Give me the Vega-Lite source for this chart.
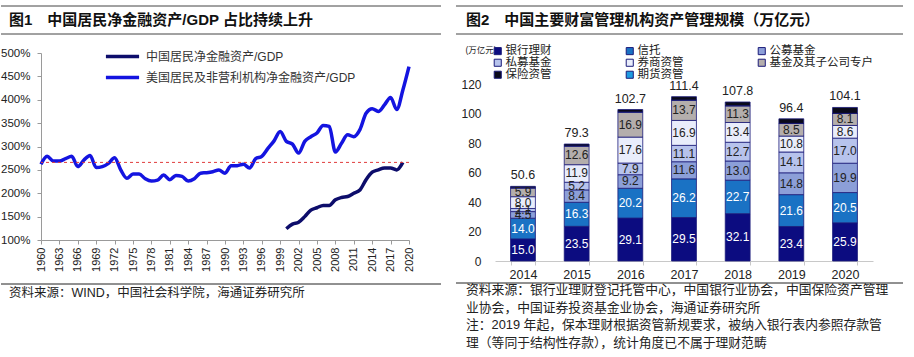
{
  "$schema": "https://vega.github.io/schema/vega-lite/v6.json",
  "padding": {"left": 0, "top": 5, "right": 0, "bottom": 0},
  "config": {
    "view": {"stroke": null},
    "font": "'Liberation Sans', 'Noto Sans CJK SC', sans-serif"
  },
  "resolve": {"scale": {"color": "independent"}, "legend": {"color": "independent"}},
  "datasets": {
    "lines": [
      {"series": "美国居民及非营利机构净金融资产/GDP", "year": 1960, "value": 262},
      {"series": "美国居民及非营利机构净金融资产/GDP", "year": 1961, "value": 279},
      {"series": "美国居民及非营利机构净金融资产/GDP", "year": 1962, "value": 269},
      {"series": "美国居民及非营利机构净金融资产/GDP", "year": 1963, "value": 269},
      {"series": "美国居民及非营利机构净金融资产/GDP", "year": 1964, "value": 274},
      {"series": "美国居民及非营利机构净金融资产/GDP", "year": 1965, "value": 279},
      {"series": "美国居民及非营利机构净金融资产/GDP", "year": 1966, "value": 257},
      {"series": "美国居民及非营利机构净金融资产/GDP", "year": 1967, "value": 271},
      {"series": "美国居民及非营利机构净金融资产/GDP", "year": 1968, "value": 281},
      {"series": "美国居民及非营利机构净金融资产/GDP", "year": 1969, "value": 255},
      {"series": "美国居民及非营利机构净金融资产/GDP", "year": 1970, "value": 257},
      {"series": "美国居民及非营利机构净金融资产/GDP", "year": 1971, "value": 264},
      {"series": "美国居民及非营利机构净金融资产/GDP", "year": 1972, "value": 276},
      {"series": "美国居民及非营利机构净金融资产/GDP", "year": 1973, "value": 250},
      {"series": "美国居民及非营利机构净金融资产/GDP", "year": 1974, "value": 232},
      {"series": "美国居民及非营利机构净金融资产/GDP", "year": 1975, "value": 241},
      {"series": "美国居民及非营利机构净金融资产/GDP", "year": 1976, "value": 241},
      {"series": "美国居民及非营利机构净金融资产/GDP", "year": 1977, "value": 231},
      {"series": "美国居民及非营利机构净金融资产/GDP", "year": 1978, "value": 226},
      {"series": "美国居民及非营利机构净金融资产/GDP", "year": 1979, "value": 228},
      {"series": "美国居民及非营利机构净金融资产/GDP", "year": 1980, "value": 239},
      {"series": "美国居民及非营利机构净金融资产/GDP", "year": 1981, "value": 229},
      {"series": "美国居民及非营利机构净金融资产/GDP", "year": 1982, "value": 238},
      {"series": "美国居民及非营利机构净金融资产/GDP", "year": 1983, "value": 236},
      {"series": "美国居民及非营利机构净金融资产/GDP", "year": 1984, "value": 226},
      {"series": "美国居民及非营利机构净金融资产/GDP", "year": 1985, "value": 231},
      {"series": "美国居民及非营利机构净金融资产/GDP", "year": 1986, "value": 243},
      {"series": "美国居民及非营利机构净金融资产/GDP", "year": 1987, "value": 244},
      {"series": "美国居民及非营利机构净金融资产/GDP", "year": 1988, "value": 246},
      {"series": "美国居民及非营利机构净金融资产/GDP", "year": 1989, "value": 250},
      {"series": "美国居民及非营利机构净金融资产/GDP", "year": 1990, "value": 243},
      {"series": "美国居民及非营利机构净金融资产/GDP", "year": 1991, "value": 259},
      {"series": "美国居民及非营利机构净金融资产/GDP", "year": 1992, "value": 259},
      {"series": "美国居民及非营利机构净金融资产/GDP", "year": 1993, "value": 262},
      {"series": "美国居民及非营利机构净金融资产/GDP", "year": 1994, "value": 254},
      {"series": "美国居民及非营利机构净金融资产/GDP", "year": 1995, "value": 274},
      {"series": "美国居民及非营利机构净金融资产/GDP", "year": 1996, "value": 279},
      {"series": "美国居民及非营利机构净金融资产/GDP", "year": 1997, "value": 296},
      {"series": "美国居民及非营利机构净金融资产/GDP", "year": 1998, "value": 312},
      {"series": "美国居民及非营利机构净金融资产/GDP", "year": 1999, "value": 332},
      {"series": "美国居民及非营利机构净金融资产/GDP", "year": 2000, "value": 311},
      {"series": "美国居民及非营利机构净金融资产/GDP", "year": 2001, "value": 305},
      {"series": "美国居民及非营利机构净金融资产/GDP", "year": 2002, "value": 286},
      {"series": "美国居民及非营利机构净金融资产/GDP", "year": 2003, "value": 311},
      {"series": "美国居民及非营利机构净金融资产/GDP", "year": 2004, "value": 321},
      {"series": "美国居民及非营利机构净金融资产/GDP", "year": 2005, "value": 329},
      {"series": "美国居民及非营利机构净金融资产/GDP", "year": 2006, "value": 345},
      {"series": "美国居民及非营利机构净金融资产/GDP", "year": 2007, "value": 343},
      {"series": "美国居民及非营利机构净金融资产/GDP", "year": 2008, "value": 288},
      {"series": "美国居民及非营利机构净金融资产/GDP", "year": 2009, "value": 307},
      {"series": "美国居民及非营利机构净金融资产/GDP", "year": 2010, "value": 325},
      {"series": "美国居民及非营利机构净金融资产/GDP", "year": 2011, "value": 321},
      {"series": "美国居民及非营利机构净金融资产/GDP", "year": 2012, "value": 336},
      {"series": "美国居民及非营利机构净金融资产/GDP", "year": 2013, "value": 371},
      {"series": "美国居民及非营利机构净金融资产/GDP", "year": 2014, "value": 381},
      {"series": "美国居民及非营利机构净金融资产/GDP", "year": 2015, "value": 375},
      {"series": "美国居民及非营利机构净金融资产/GDP", "year": 2016, "value": 389},
      {"series": "美国居民及非营利机构净金融资产/GDP", "year": 2017, "value": 405},
      {"series": "美国居民及非营利机构净金融资产/GDP", "year": 2018, "value": 379},
      {"series": "美国居民及非营利机构净金融资产/GDP", "year": 2019, "value": 421},
      {"series": "美国居民及非营利机构净金融资产/GDP", "year": 2020, "value": 471},
      {"series": "中国居民净金融资产/GDP", "year": 2000, "value": 124},
      {"series": "中国居民净金融资产/GDP", "year": 2001, "value": 134},
      {"series": "中国居民净金融资产/GDP", "year": 2002, "value": 138},
      {"series": "中国居民净金融资产/GDP", "year": 2003, "value": 150},
      {"series": "中国居民净金融资产/GDP", "year": 2004, "value": 164},
      {"series": "中国居民净金融资产/GDP", "year": 2005, "value": 169},
      {"series": "中国居民净金融资产/GDP", "year": 2006, "value": 174},
      {"series": "中国居民净金融资产/GDP", "year": 2007, "value": 174},
      {"series": "中国居民净金融资产/GDP", "year": 2008, "value": 186},
      {"series": "中国居民净金融资产/GDP", "year": 2009, "value": 191},
      {"series": "中国居民净金融资产/GDP", "year": 2010, "value": 193},
      {"series": "中国居民净金融资产/GDP", "year": 2011, "value": 200},
      {"series": "中国居民净金融资产/GDP", "year": 2012, "value": 207},
      {"series": "中国居民净金融资产/GDP", "year": 2013, "value": 229},
      {"series": "中国居民净金融资产/GDP", "year": 2014, "value": 245},
      {"series": "中国居民净金融资产/GDP", "year": 2015, "value": 250},
      {"series": "中国居民净金融资产/GDP", "year": 2016, "value": 254},
      {"series": "中国居民净金融资产/GDP", "year": 2017, "value": 254},
      {"series": "中国居民净金融资产/GDP", "year": 2018, "value": 250},
      {"series": "中国居民净金融资产/GDP", "year": 2019, "value": 266}
    ],
    "wealth": [
      {"year": "2014", "series": "银行理财", "k": 1, "v": 15.0},
      {"year": "2014", "series": "信托", "k": 2, "v": 14.0},
      {"year": "2014", "series": "公募基金", "k": 3, "v": 4.5},
      {"year": "2014", "series": "私募基金", "k": 4, "v": 2.1},
      {"year": "2014", "series": "券商资管", "k": 5, "v": 8.0},
      {"year": "2014", "series": "基金及其子公司专户", "k": 6, "v": 5.9},
      {"year": "2014", "series": "期货资管", "k": 7, "v": 0.1},
      {"year": "2014", "series": "保险资管", "k": 8, "v": 1.0},
      {"year": "2015", "series": "银行理财", "k": 1, "v": 23.5},
      {"year": "2015", "series": "信托", "k": 2, "v": 16.3},
      {"year": "2015", "series": "公募基金", "k": 3, "v": 8.4},
      {"year": "2015", "series": "私募基金", "k": 4, "v": 5.2},
      {"year": "2015", "series": "券商资管", "k": 5, "v": 11.9},
      {"year": "2015", "series": "基金及其子公司专户", "k": 6, "v": 12.6},
      {"year": "2015", "series": "期货资管", "k": 7, "v": 0.1},
      {"year": "2015", "series": "保险资管", "k": 8, "v": 1.3},
      {"year": "2016", "series": "银行理财", "k": 1, "v": 29.1},
      {"year": "2016", "series": "信托", "k": 2, "v": 20.2},
      {"year": "2016", "series": "公募基金", "k": 3, "v": 9.2},
      {"year": "2016", "series": "私募基金", "k": 4, "v": 7.9},
      {"year": "2016", "series": "券商资管", "k": 5, "v": 17.6},
      {"year": "2016", "series": "基金及其子公司专户", "k": 6, "v": 16.9},
      {"year": "2016", "series": "期货资管", "k": 7, "v": 0.1},
      {"year": "2016", "series": "保险资管", "k": 8, "v": 1.7},
      {"year": "2017", "series": "银行理财", "k": 1, "v": 29.5},
      {"year": "2017", "series": "信托", "k": 2, "v": 26.2},
      {"year": "2017", "series": "公募基金", "k": 3, "v": 11.6},
      {"year": "2017", "series": "私募基金", "k": 4, "v": 11.1},
      {"year": "2017", "series": "券商资管", "k": 5, "v": 16.9},
      {"year": "2017", "series": "基金及其子公司专户", "k": 6, "v": 13.7},
      {"year": "2017", "series": "期货资管", "k": 7, "v": 0.1},
      {"year": "2017", "series": "保险资管", "k": 8, "v": 2.3},
      {"year": "2018", "series": "银行理财", "k": 1, "v": 32.1},
      {"year": "2018", "series": "信托", "k": 2, "v": 22.7},
      {"year": "2018", "series": "公募基金", "k": 3, "v": 13.0},
      {"year": "2018", "series": "私募基金", "k": 4, "v": 12.7},
      {"year": "2018", "series": "券商资管", "k": 5, "v": 13.4},
      {"year": "2018", "series": "基金及其子公司专户", "k": 6, "v": 11.3},
      {"year": "2018", "series": "期货资管", "k": 7, "v": 0.1},
      {"year": "2018", "series": "保险资管", "k": 8, "v": 2.5},
      {"year": "2019", "series": "银行理财", "k": 1, "v": 23.4},
      {"year": "2019", "series": "信托", "k": 2, "v": 21.6},
      {"year": "2019", "series": "公募基金", "k": 3, "v": 14.8},
      {"year": "2019", "series": "私募基金", "k": 4, "v": 14.1},
      {"year": "2019", "series": "券商资管", "k": 5, "v": 10.8},
      {"year": "2019", "series": "基金及其子公司专户", "k": 6, "v": 8.5},
      {"year": "2019", "series": "期货资管", "k": 7, "v": 0.1},
      {"year": "2019", "series": "保险资管", "k": 8, "v": 3.1},
      {"year": "2020", "series": "银行理财", "k": 1, "v": 25.9},
      {"year": "2020", "series": "信托", "k": 2, "v": 20.5},
      {"year": "2020", "series": "公募基金", "k": 3, "v": 19.9},
      {"year": "2020", "series": "私募基金", "k": 4, "v": 17.0},
      {"year": "2020", "series": "券商资管", "k": 5, "v": 8.6},
      {"year": "2020", "series": "基金及其子公司专户", "k": 6, "v": 8.1},
      {"year": "2020", "series": "期货资管", "k": 7, "v": 0.1},
      {"year": "2020", "series": "保险资管", "k": 8, "v": 4.0}
    ],
    "totals": [
      {"year": "2014", "total": 50.6},
      {"year": "2015", "total": 79.3},
      {"year": "2016", "total": 102.7},
      {"year": "2017", "total": 111.4},
      {"year": "2018", "total": 107.8},
      {"year": "2019", "total": 96.4},
      {"year": "2020", "total": 104.1}
    ]
  },
  "hconcat": [
    {
      "spacing": 12,
      "resolve": {"scale": {"color": "independent"}, "legend": {"color": "independent"}},
      "vconcat": [
        {
          "width": 400,
          "height": 28,
          "data": {"values": [{"t": "图1\u3000中国居民净金融资产/GDP 占比持续上升"}]},
          "layer": [
            {
              "mark": {"type": "rule", "color": "#444", "strokeWidth": 1},
              "encoding": {
                "x": {"datum": -0.1, "type": "quantitative", "scale": {"domain": [0, 1], "nice": false, "zero": false}, "axis": null},
                "x2": {"datum": 1},
                "y": {"datum": 1, "type": "quantitative", "scale": {"domain": [0, 1], "nice": false}, "axis": null}
              }
            },
            {
              "mark": {"type": "rule", "color": "#444", "strokeWidth": 1},
              "encoding": {
                "x": {"datum": -0.1, "type": "quantitative", "scale": {"domain": [0, 1], "nice": false, "zero": false}, "axis": null},
                "x2": {"datum": 1},
                "y": {"datum": 0, "type": "quantitative", "scale": {"domain": [0, 1], "nice": false}, "axis": null}
              }
            },
            {
              "mark": {"type": "text", "align": "left", "baseline": "middle", "fontSize": 15, "fontWeight": "bold", "color": "#111"},
              "encoding": {
                "x": {"datum": -0.08, "type": "quantitative", "scale": {"domain": [0, 1], "nice": false, "zero": false}, "axis": null},
                "y": {"datum": 0.5, "type": "quantitative", "scale": {"domain": [0, 1], "nice": false}, "axis": null},
                "text": {"field": "t"}
              }
            }
          ]
        },
        {
          "spacing": 11,
          "resolve": {"scale": {"color": "independent"}, "legend": {"color": "independent"}},
          "vconcat": [
            {
              "width": 368,
              "height": 187,
              "layer": [
                {
                  "data": {"name": "lines"},
                  "mark": {"type": "line", "strokeWidth": 3.5, "interpolate": "monotone"},
                  "encoding": {
                    "x": {
                      "field": "year", "type": "quantitative",
                      "scale": {"domain": [1960, 2020], "nice": false, "zero": false},
                      "axis": {
                        "title": null, "values": [1960, 1963, 1966, 1969, 1972, 1975, 1978, 1981, 1984, 1987, 1990, 1993, 1996, 1999, 2002, 2005, 2008, 2011, 2014, 2017, 2020],
                        "format": "d", "labelAngle": -90, "labelFontSize": 11, "labelColor": "#222", "labelPadding": 3,
                        "labelOverlap": false, "labelFlush": false, "grid": false,
                        "domainColor": "#9a9a9a", "tickColor": "#9a9a9a", "tickSize": 4
                      }
                    },
                    "y": {
                      "field": "value", "type": "quantitative",
                      "scale": {"domain": [100, 500], "nice": false, "zero": false},
                      "axis": {
                        "title": null, "values": [100, 150, 200, 250, 300, 350, 400, 450, 500],
                        "labelExpr": "datum.value + '%'", "labelFontSize": 11.5, "labelColor": "#222", "labelPadding": 7,
                        "labelOverlap": false, "grid": false, "domainColor": "#9a9a9a", "tickColor": "#9a9a9a", "tickSize": 4
                      }
                    },
                    "color": {
                      "field": "series", "type": "nominal",
                      "sort": ["中国居民净金融资产/GDP", "美国居民及非营利机构净金融资产/GDP"],
                      "scale": {"domain": ["中国居民净金融资产/GDP", "美国居民及非营利机构净金融资产/GDP"], "range": ["#0d0d6b", "#1414e0"]},
                      "legend": {
                        "orient": "none", "legendX": 63, "legendY": -4, "title": null,
                        "symbolType": "stroke", "symbolSize": 1100, "symbolStrokeWidth": 3.5, "clipHeight": 15,
                        "labelFontSize": 12, "labelColor": "#333", "rowPadding": 6, "labelOffset": 5, "padding": 0, "labelLimit": 400
                      }
                    }
                  }
                },
                {
                  "data": {"values": [{}]},
                  "mark": {"type": "rule", "color": "#e03c3c", "strokeDash": [3, 3], "strokeWidth": 1},
                  "encoding": {
                    "y": {
                      "datum": 266, "type": "quantitative",
                      "scale": {"domain": [100, 500], "nice": false, "zero": false},
                      "axis": {
                        "title": null, "values": [100, 150, 200, 250, 300, 350, 400, 450, 500],
                        "labelExpr": "datum.value + '%'", "labelFontSize": 11.5, "labelColor": "#222", "labelPadding": 7,
                        "labelOverlap": false, "grid": false, "domainColor": "#9a9a9a", "tickColor": "#9a9a9a", "tickSize": 4
                      }
                    }
                  }
                }
              ]
            },
            {
              "width": 400,
              "height": 17,
              "data": {"values": [{"t": "资料来源：WIND，中国社会科学院，海通证券研究所"}]},
              "layer": [
                {
                  "mark": {"type": "rule", "color": "#222", "strokeWidth": 1},
                  "encoding": {
                    "x": {"datum": -0.1, "type": "quantitative", "scale": {"domain": [0, 1], "nice": false, "zero": false}, "axis": null},
                    "x2": {"datum": 1},
                    "y": {"datum": 1, "type": "quantitative", "scale": {"domain": [0, 1], "nice": false}, "axis": null}
                  }
                },
                {
                  "mark": {"type": "text", "align": "left", "baseline": "middle", "fontSize": 12.5, "color": "#222"},
                  "encoding": {
                    "x": {"datum": -0.08, "type": "quantitative", "scale": {"domain": [0, 1], "nice": false, "zero": false}, "axis": null},
                    "y": {"datum": 0.5, "type": "quantitative", "scale": {"domain": [0, 1], "nice": false}, "axis": null},
                    "text": {"field": "t"}
                  }
                }
              ]
            }
          ]
        }
      ]
    },
    {
      "spacing": 10,
      "resolve": {"scale": {"color": "independent"}, "legend": {"color": "independent"}},
      "vconcat": [
        {
          "width": 408,
          "height": 28,
          "data": {"values": [{"t": "图2\u3000中国主要财富管理机构资产管理规模（万亿元）"}]},
          "layer": [
            {
              "mark": {"type": "rule", "color": "#444", "strokeWidth": 1},
              "encoding": {
                "x": {"datum": -0.0956, "type": "quantitative", "scale": {"domain": [0, 1], "nice": false, "zero": false}, "axis": null},
                "x2": {"datum": 1},
                "y": {"datum": 1, "type": "quantitative", "scale": {"domain": [0, 1], "nice": false}, "axis": null}
              }
            },
            {
              "mark": {"type": "rule", "color": "#444", "strokeWidth": 1},
              "encoding": {
                "x": {"datum": -0.0956, "type": "quantitative", "scale": {"domain": [0, 1], "nice": false, "zero": false}, "axis": null},
                "x2": {"datum": 1},
                "y": {"datum": 0, "type": "quantitative", "scale": {"domain": [0, 1], "nice": false}, "axis": null}
              }
            },
            {
              "mark": {"type": "text", "align": "left", "baseline": "middle", "fontSize": 15, "fontWeight": "bold", "color": "#111"},
              "encoding": {
                "x": {"datum": -0.0711, "type": "quantitative", "scale": {"domain": [0, 1], "nice": false, "zero": false}, "axis": null},
                "y": {"datum": 0.5, "type": "quantitative", "scale": {"domain": [0, 1], "nice": false}, "axis": null},
                "text": {"field": "t"}
              }
            }
          ]
        },
        {
          "spacing": 1,
          "resolve": {"scale": {"color": "independent"}, "legend": {"color": "independent"}},
          "vconcat": [
            {
              "width": 378,
              "height": 177,
              "layer": [
                {
                  "data": {"name": "wealth"},
                  "mark": {"type": "bar", "stroke": "#1b1b7a", "strokeWidth": 0.8},
                  "encoding": {
                    "x": {
                      "field": "year", "type": "nominal",
                      "scale": {"paddingInner": 0.537, "paddingOuter": 0.29},
                      "axis": {
                        "title": null, "labelAngle": 0, "tickBand": "extent", "labelFontSize": 12.5, "labelColor": "#222",
                        "labelPadding": 3, "domainColor": "#c8c8c8", "tickColor": "#c8c8c8", "tickSize": 4, "grid": false
                      }
                    },
                    "y": {
                      "field": "v", "type": "quantitative", "stack": "zero",
                      "scale": {"domain": [0, 120], "nice": false},
                      "axis": {
                        "title": "(万亿元)", "titleAngle": 0, "titleAlign": "left", "titleBaseline": "middle",
                        "titleX": -30, "titleY": -35, "titleFontSize": 8.5, "titleFontWeight": "normal", "titleColor": "#222",
                        "values": [0, 20, 40, 60, 80, 100, 120], "domain": false, "ticks": false, "grid": false,
                        "labelOverlap": false, "labelPadding": 14, "labelFontSize": 12, "labelColor": "#222"
                      }
                    },
                    "color": {
                      "field": "series", "type": "nominal",
                      "sort": ["银行理财", "信托", "公募基金", "私募基金", "券商资管", "基金及其子公司专户", "保险资管", "期货资管"],
                      "scale": {
                        "domain": ["银行理财", "信托", "公募基金", "私募基金", "券商资管", "基金及其子公司专户", "保险资管", "期货资管"],
                        "range": ["#0c0c80", "#1a72c4", "#8c9fd8", "#b7c3ec", "#e9edfb", "#b4aeac", "#0a0a1a", "#1e9be0"]
                      },
                      "legend": {
                        "orient": "none", "legendX": -3, "legendY": -39, "title": null, "columns": 3, "gridAlign": "all",
                        "columnPadding": 15, "rowPadding": -1.5, "symbolType": "square", "symbolSize": 50,
                        "symbolStrokeColor": "#1b1b7a", "symbolStrokeWidth": 1, "labelFontSize": 11.5, "labelColor": "#222",
                        "labelOffset": 2, "padding": 0, "labelLimit": 200, "direction": "horizontal"
                      }
                    },
                    "order": {"field": "k", "type": "quantitative"}
                  }
                },
                {
                  "data": {"name": "wealth"},
                  "transform": [{"filter": "datum.k <= 6"}],
                  "mark": {"type": "text", "fontSize": 12, "baseline": "middle"},
                  "encoding": {
                    "x": {"field": "year", "type": "nominal"},
                    "y": {
                      "field": "v", "type": "quantitative", "stack": "zero", "bandPosition": 0.5,
                      "scale": {"domain": [0, 120], "nice": false},
                      "axis": {
                        "title": "(万亿元)", "titleAngle": 0, "titleAlign": "left", "titleBaseline": "middle",
                        "titleX": -30, "titleY": -35, "titleFontSize": 8.5, "titleFontWeight": "normal", "titleColor": "#222",
                        "values": [0, 20, 40, 60, 80, 100, 120], "domain": false, "ticks": false, "grid": false,
                        "labelOverlap": false, "labelPadding": 14, "labelFontSize": 12, "labelColor": "#222"
                      }
                    },
                    "detail": {"field": "series", "type": "nominal"},
                    "order": {"field": "k", "type": "quantitative"},
                    "text": {"field": "v", "type": "quantitative", "format": ".1f"},
                    "color": {"condition": {"test": "datum.k <= 2", "value": "#ffffff"}, "value": "#222222"}
                  }
                },
                {
                  "data": {"name": "totals"},
                  "mark": {"type": "text", "fontSize": 12.5, "dy": -11, "color": "#222", "baseline": "middle"},
                  "encoding": {
                    "x": {"field": "year", "type": "nominal"},
                    "y": {
                      "field": "total", "type": "quantitative",
                      "scale": {"domain": [0, 120], "nice": false},
                      "axis": {
                        "title": "(万亿元)", "titleAngle": 0, "titleAlign": "left", "titleBaseline": "middle",
                        "titleX": -30, "titleY": -35, "titleFontSize": 8.5, "titleFontWeight": "normal", "titleColor": "#222",
                        "values": [0, 20, 40, 60, 80, 100, 120], "domain": false, "ticks": false, "grid": false,
                        "labelOverlap": false, "labelPadding": 14, "labelFontSize": 12, "labelColor": "#222"
                      }
                    },
                    "text": {"field": "total", "type": "quantitative", "format": ".1f"}
                  }
                }
              ]
            },
            {
              "width": 408,
              "height": 72,
              "data": {"values": [{"t": "资料来源：银行业理财登记托管中心，中国银行业协会，中国保险资产管理\n业协会，中国证券投资基金业协会，海通证券研究所\n注：2019 年起，保本理财根据资管新规要求，被纳入银行表内参照存款管\n理（等同于结构性存款），统计角度已不属于理财范畴"}]},
              "layer": [
                {
                  "mark": {"type": "rule", "color": "#222", "strokeWidth": 1},
                  "encoding": {
                    "x": {"datum": -0.0956, "type": "quantitative", "scale": {"domain": [0, 1], "nice": false, "zero": false}, "axis": null},
                    "x2": {"datum": 1},
                    "y": {"datum": 1, "type": "quantitative", "scale": {"domain": [0, 1], "nice": false}, "axis": null}
                  }
                },
                {
                  "mark": {"type": "text", "align": "left", "baseline": "top", "dy": 1, "fontSize": 12.8, "lineHeight": 17.5, "lineBreak": "\n", "color": "#222"},
                  "encoding": {
                    "x": {"datum": -0.0711, "type": "quantitative", "scale": {"domain": [0, 1], "nice": false, "zero": false}, "axis": null},
                    "y": {"datum": 1, "type": "quantitative", "scale": {"domain": [0, 1], "nice": false}, "axis": null},
                    "text": {"field": "t"}
                  }
                }
              ]
            }
          ]
        }
      ]
    }
  ],
  "spacing": 13
}
